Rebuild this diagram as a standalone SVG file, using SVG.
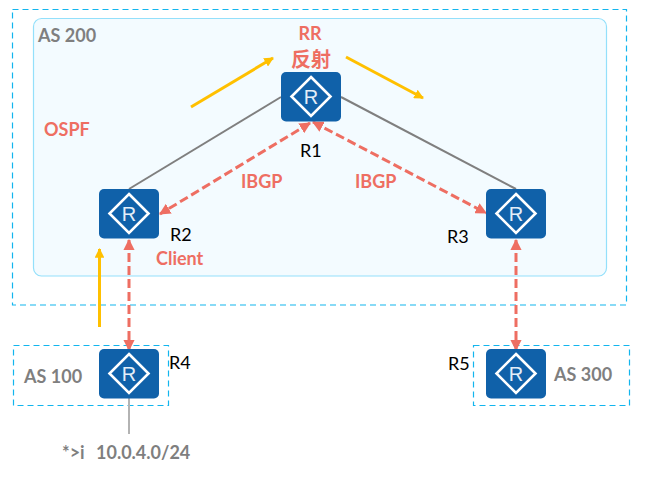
<svg xmlns="http://www.w3.org/2000/svg" xmlns:xlink="http://www.w3.org/1999/xlink" width="648" height="482" viewBox="0 0 648 482">
  <style>
    .zone { fill: none; stroke: #12b5ee; stroke-width: 1.2; stroke-dasharray: 6 4; }
    .as { font: 700 18px Lato, "Noto Sans", sans-serif; fill: #7f7f7f; }
    .red { font: 700 18px Lato, "Noto Sans", sans-serif; fill: #ee6e62; }
    .name { font: 400 18px Lato, "Noto Sans", sans-serif; fill: #000; }
    .link { stroke: #7f7f7f; stroke-width: 2; fill: none; }
    .bgp { stroke: #ee6e62; stroke-width: 3; stroke-dasharray: 9 4; fill: none; marker-start: url(#redTip); marker-end: url(#redTip); }
    .flow { stroke: #ffc000; stroke-width: 3; fill: none; marker-end: url(#goldTip); }
    .box { fill: #1061a9; }
    .glyph { fill: none; stroke: #fff; stroke-width: 2.6; }
    .r { font: 400 20px "Liberation Sans", Arial, sans-serif; fill: #e3eef8; text-anchor: middle; }
  </style>
  <defs>
    <marker id="redTip" viewBox="0 0 10 10" refX="9" refY="5" markerWidth="3.8" markerHeight="3.8" orient="auto-start-reverse">
      <path d="M0 0L10 5L0 10Z" fill="#ee6e62"/>
    </marker>
    <marker id="goldTip" viewBox="0 0 10 10" refX="9" refY="5" markerWidth="3.2" markerHeight="3.2" orient="auto">
      <path d="M0 0L10 5L0 10Z" fill="#ffc000"/>
    </marker>
    <g id="router">
      <rect class="box" width="60" height="49.500" rx="5"/>
      <path class="glyph" d="M30 5L49.500 24.500L30 44L10.500 24.500Z"/>
      <text class="r" x="30" y="31.500">R</text>
    </g>
  </defs>
  <rect width="648" height="482" fill="#fff"/>

  <g id="as200">
    <rect x="33.500" y="18.500" width="573" height="257.500" rx="8" fill="#f3fbff" stroke="#93e0fb" stroke-width="1.200"/>
    <rect class="zone" x="12.500" y="9.500" width="614" height="295.500"/>
    <text class="as" x="38" y="42">AS 200</text>
    <text class="red" x="44" y="136">OSPF</text>
  </g>
  <g id="as100">
    <rect class="zone" x="13.500" y="345.500" width="155" height="60"/>
    <text class="as" x="24" y="383">AS 100</text>
  </g>
  <g id="as300">
    <rect class="zone" x="473.500" y="345.500" width="156" height="60"/>
    <text class="as" x="554" y="381">AS 300</text>
  </g>

  <g id="connectors">
    <line class="link" x1="281" y1="97" x2="129" y2="189"/>
    <line class="link" x1="341" y1="97" x2="516" y2="189"/>
    <line x1="129" y1="398" x2="129" y2="434" stroke="#b3b3b3" stroke-width="2"/>
    <line class="bgp" x1="310" y1="123" x2="160" y2="214"/>
    <line class="bgp" x1="313" y1="122" x2="486" y2="213"/>
    <line class="bgp" x1="129" y1="240" x2="129" y2="350"/>
    <line class="bgp" x1="516" y1="240" x2="516" y2="350"/>
    <line class="flow" x1="191" y1="107" x2="273" y2="58"/>
    <line class="flow" x1="346" y1="57" x2="423" y2="98"/>
    <line class="flow" x1="99.500" y1="327" x2="99.500" y2="249"/>
  </g>

  <g id="R1">
    <use xlink:href="#router" href="#router" x="281" y="72"/>
    <text class="name" x="300" y="157">R1</text>
    <text class="red" x="298.500" y="39.500">RR</text>
    <text x="291" y="66.500" style="font: 700 20px 'Noto Sans CJK SC', sans-serif; fill: #ee6e62">反射</text>
  </g>
  <g id="R2">
    <use xlink:href="#router" href="#router" x="99" y="189"/>
    <text class="name" x="170" y="241">R2</text>
    <text class="red" x="156" y="265">Client</text>
  </g>
  <g id="R3">
    <use xlink:href="#router" href="#router" x="486" y="189"/>
    <text class="name" x="447" y="243">R3</text>
  </g>
  <g id="R4">
    <use xlink:href="#router" href="#router" x="99" y="349"/>
    <text class="name" x="169" y="369">R4</text>
    <text class="as" x="62" y="459">*&gt;i<tspan x="96">10.0.4.0/24</tspan></text>
  </g>
  <g id="R5">
    <use xlink:href="#router" href="#router" x="486" y="349"/>
    <text class="name" x="448" y="370">R5</text>
  </g>
  <g id="labels">
    <text class="red" x="241" y="188">IBGP</text>
    <text class="red" x="355" y="188">IBGP</text>
  </g>
</svg>
